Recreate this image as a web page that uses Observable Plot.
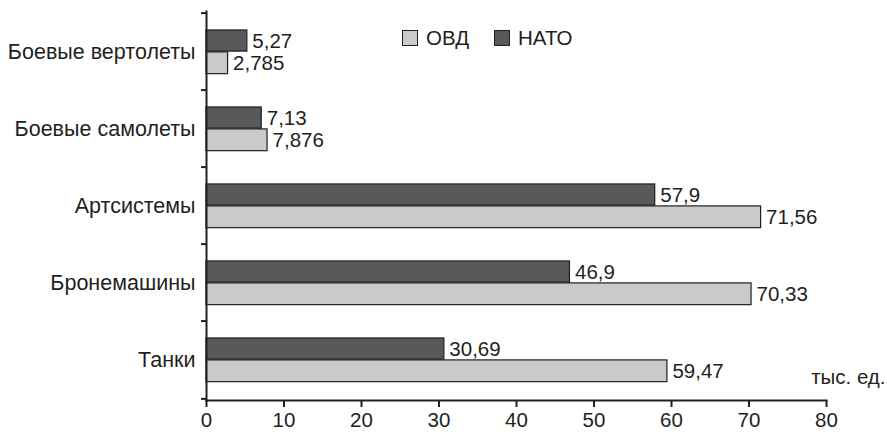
<!DOCTYPE html>
<html>
<head>
<meta charset="utf-8">
<script src="https://cdn.jsdelivr.net/npm/d3@7"></script>
<script src="https://cdn.jsdelivr.net/npm/@observablehq/plot@0.6"></script>
<style>
  html, body { margin: 0; padding: 0; background: #fff; }
  #wrap { position: relative; width: 887px; height: 432px; font-family: "Liberation Sans", Arial, sans-serif; color: #231f20; }
  #legend { position: absolute; top: 26px; left: 402px; display: flex; align-items: center; font-size: 20.5px; }
  .item { display: flex; align-items: center; margin-right: 25px; }
  .sw { width: 14px; height: 14px; border: 1px solid #231f20; margin-right: 8px; }
</style>
</head>
<body>
<div id="wrap"><div id="legend"></div></div>
<script>
const categories = ["Боевые вертолеты", "Боевые самолеты", "Артсистемы", "Бронемашины", "Танки"];
const natoValues = [5.27, 7.13, 57.9, 46.9, 30.69];
const ovdValues = [2.785, 7.876, 71.56, 70.33, 59.47];
const xTicks = [0, 10, 20, 30, 40, 50, 60, 70, 80];
const seriesNames = ["ОВД", "НАТО"];
const seriesColors = ["#c9cacb", "#58595b"];
const unitLabel = "тыс. ед.";

const nato = categories.map((c, i) => ({cat: c, value: natoValues[i]}));
const ovd = categories.map((c, i) => ({cat: c, value: ovdValues[i]}));
const fmt = d => String(d.value).replace(".", ",");

const W = 887, H = 432, mT = 11, mB = 32, mL = 206, mR = 61;
const bw = (H - mT - mB) / categories.length;
const ink = "#231f20";

const chart = Plot.plot({
  width: W, height: H,
  marginTop: mT, marginBottom: mB, marginLeft: mL, marginRight: mR,
  style: {fontFamily: "'Liberation Sans', Arial, sans-serif", fontSize: "20px", color: ink, background: "#fff"},
  x: {domain: [0, 80]},
  y: {domain: categories, padding: 0},
  marks: [
    Plot.barX(nato, {x: "value", y: "cat", fill: seriesColors[1], stroke: ink, strokeWidth: 1.2, insetTop: bw * 0.218, insetBottom: bw * 0.5}),
    Plot.barX(ovd, {x: "value", y: "cat", fill: seriesColors[0], stroke: ink, strokeWidth: 1.2, insetTop: bw * 0.5, insetBottom: bw * 0.21}),
    Plot.text(nato, {x: "value", y: "cat", text: fmt, textAnchor: "start", dx: 5, dy: -bw * 0.14, fill: ink, fontSize: 20.5}),
    Plot.text(ovd, {x: "value", y: "cat", text: fmt, textAnchor: "start", dx: 5, dy: bw * 0.145, fill: ink, fontSize: 20.5}),
    Plot.frame({anchor: "bottom", stroke: ink, strokeWidth: 2}),
    Plot.frame({anchor: "left", stroke: ink, strokeWidth: 2}),
    Plot.axisX({ticks: xTicks, tickSize: 7, tickPadding: 5, strokeWidth: 2, fontSize: 20.5, label: null, stroke: ink, fill: ink}),
    Plot.axisY({tickSize: 0, tickPadding: 11, fontSize: 21.5, label: null, fill: ink}),
    Plot.axisY({tickSize: 5, strokeWidth: 2, tickFormat: () => "", dy: -bw / 2, label: null, stroke: ink}),
    Plot.axisY({ticks: [categories[categories.length - 1]], tickSize: 5, strokeWidth: 2, tickFormat: () => "", dy: bw / 2, label: null, stroke: ink}),
    Plot.text([unitLabel], {frameAnchor: "bottom-right", textAnchor: "end", dx: 59, dy: -17, fontSize: 20.5, fill: ink})
  ]
});
document.getElementById("wrap").prepend(chart);

const legend = document.getElementById("legend");
seriesNames.forEach((n, i) => {
  const it = document.createElement("div");
  it.className = "item";
  const sw = document.createElement("div");
  sw.className = "sw";
  sw.style.background = seriesColors[i];
  const t = document.createElement("span");
  t.textContent = n;
  it.append(sw, t);
  legend.append(it);
});
</script>
</body>
</html>
